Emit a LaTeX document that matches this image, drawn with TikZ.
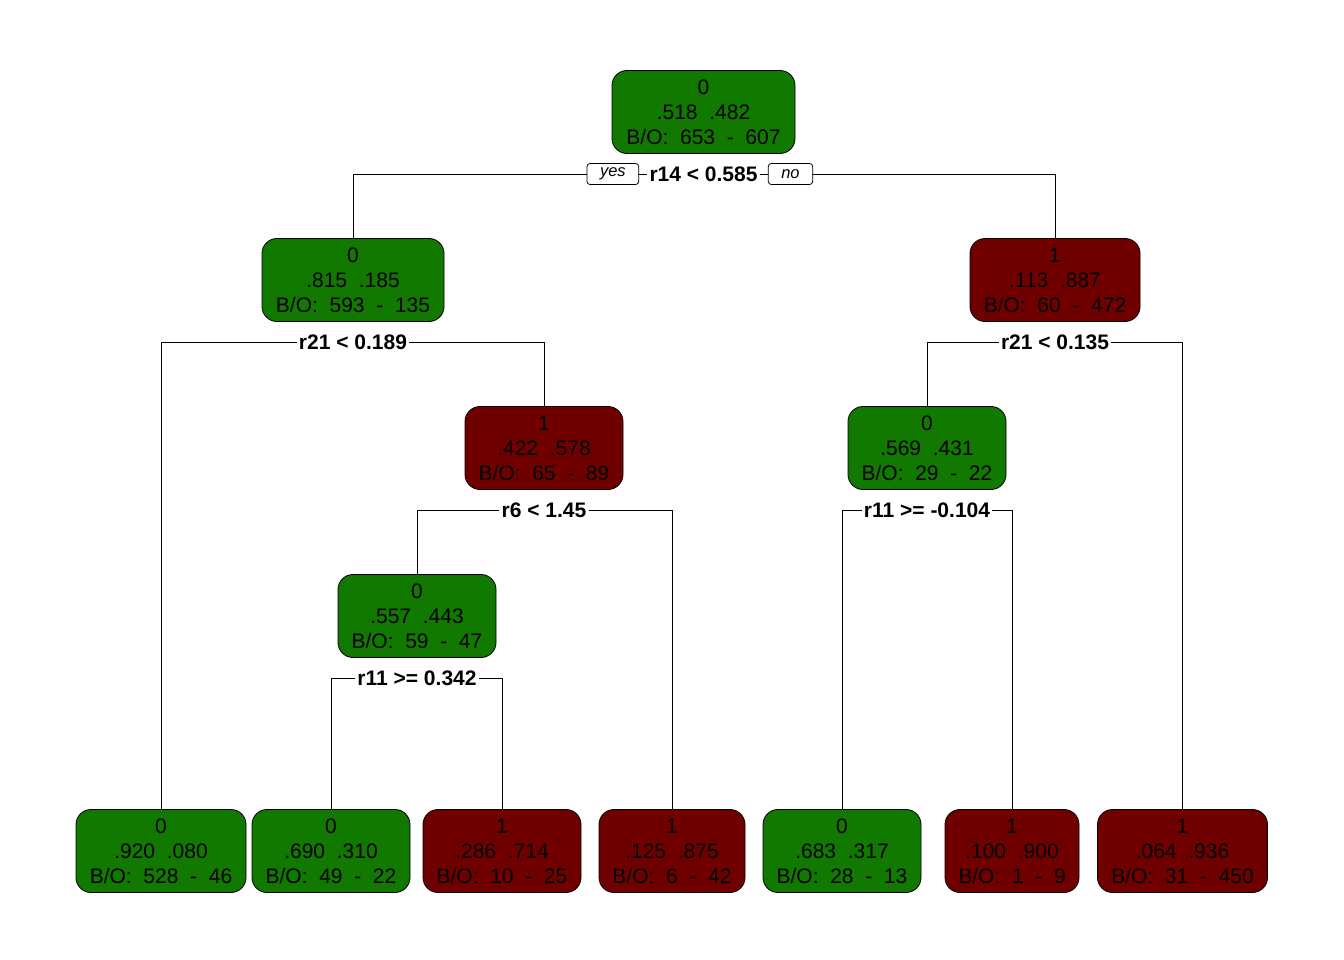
\documentclass[tikz,border=0pt]{standalone}
\usepackage{fontspec}
\setmainfont{Liberation Sans}
\usetikzlibrary{positioning}
\definecolor{leafgreen}{RGB}{17,120,0}
\definecolor{leafred}{RGB}{112,0,0}

\begin{document}
\begin{tikzpicture}[x=1pt, y=-1pt, line width=0.8pt,
  box/.style={draw=black, rounded corners=15pt, align=center, minimum height=83pt,
    inner xsep=4pt, inner ysep=2pt, font=\fontsize{21}{25}\selectfont},
  cls0/.style={box, fill=leafgreen},
  cls1/.style={box, fill=leafred},
  split/.style={font=\fontsize{21}{24}\selectfont\bfseries, inner sep=2pt},
  tag/.style={draw, fill=white, rounded corners=3pt, font=\fontsize{16.5}{18}\selectfont\itshape,
    minimum height=21pt, inner xsep=13pt, inner ysep=1pt}]

\useasboundingbox (0,0) rectangle (1344,960);

% === Inner nodes ===
\node[cls0, minimum width=183pt] (n1) at (703.5,112) {0\\.518\ \ .482\\B/O:\ \ 653\ \ -\ \ 607};
\node[cls0, minimum width=182pt] (n2) at (353,280) {0\\.815\ \ .185\\B/O:\ \ 593\ \ -\ \ 135};
\node[cls1, minimum width=170pt] (n3) at (1055,280) {1\\.113\ \ .887\\B/O:\ \ 60\ \ -\ \ 472};
\node[cls1, minimum width=158pt] (n4) at (544,448) {1\\.422\ \ .578\\B/O:\ \ 65\ \ -\ \ 89};
\node[cls0, minimum width=158pt] (n5) at (927,448) {0\\.569\ \ .431\\B/O:\ \ 29\ \ -\ \ 22};
\node[cls0, minimum width=158pt] (n6) at (417,616) {0\\.557\ \ .443\\B/O:\ \ 59\ \ -\ \ 47};

% === Leaves ===
\node[cls0, minimum width=170pt] (l1) at (161,851) {0\\.920\ \ .080\\B/O:\ \ 528\ \ -\ \ 46};
\node[cls0, minimum width=158pt] (l2) at (331,851) {0\\.690\ \ .310\\B/O:\ \ 49\ \ -\ \ 22};
\node[cls1, minimum width=158pt] (l3) at (502,851) {1\\.286\ \ .714\\B/O:\ \ 10\ \ -\ \ 25};
\node[cls1, minimum width=146pt] (l4) at (672,851) {1\\.125\ \ .875\\B/O:\ \ 6\ \ -\ \ 42};
\node[cls0, minimum width=158pt] (l5) at (842,851) {0\\.683\ \ .317\\B/O:\ \ 28\ \ -\ \ 13};
\node[cls1, minimum width=134pt] (l6) at (1012,851) {1\\.100\ \ .900\\B/O:\ \ 1\ \ -\ \ 9};
\node[cls1, minimum width=170pt] (l7) at (1182.5,851) {1\\.064\ \ .936\\B/O:\ \ 31\ \ -\ \ 450};

% === Split labels ===
\node[split] (s1) at (703.5,174) {r14 < 0.585};
\node[split] (s2) at (353,342) {r21 < 0.189};
\node[split] (s3) at (1055,342) {r21 < 0.135};
\node[split] (s4) at (544,510) {r6 < 1.45};
\node[split] (s5) at (927,510) {r11 >= -0.104};
\node[split] (s6) at (417,678) {r11 >= 0.342};

% === Connections ===
\foreach \s/\a/\b in {s1/n2/n3, s2/l1/n4, s3/n5/l7, s4/n6/l4, s5/l5/l6, s6/l2/l3}{
  \draw (\s.west) -| (\a.north);
  \draw (\s.east) -| (\b.north);
}

% yes / no
\node[tag, left=8pt of s1] (yes) {yes};
\node[tag, right=8pt of s1] (no) {no};
\end{tikzpicture}
\end{document}
